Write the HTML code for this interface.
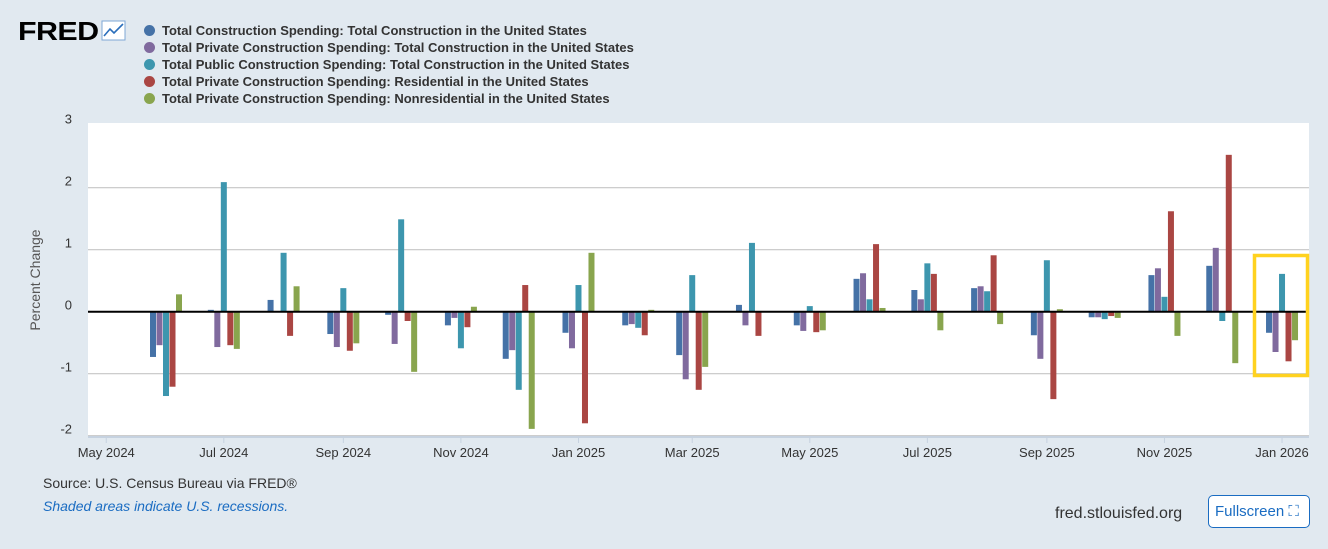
<!DOCTYPE html>
<html><head><meta charset="utf-8"><style>
body{margin:0;width:1328px;height:549px;background:#e1e9f0;font-family:"Liberation Sans",sans-serif;overflow:hidden;position:relative}
.abs{position:absolute}
.leg{position:absolute;left:144px;font-size:13px;font-weight:bold;color:#333}
.leg span{display:inline-block;width:11px;height:11px;border-radius:50%;margin-right:7px;vertical-align:-1px}
</style></head><body>
<div class="abs" style="left:18px;top:16px;font-size:26px;font-weight:900;color:#000;letter-spacing:-0.5px;transform:scaleX(1.17);transform-origin:left">FRED</div>
<svg class="abs" style="left:101px;top:20px" width="26" height="22"><rect x="1" y="1" width="23" height="19" fill="#fff" stroke="#7fa8d6"/><polyline points="3,16 9,9 13,13 22,4" fill="none" stroke="#2a6ebb" stroke-width="1.6"/></svg>
<div class="leg" style="top:23px"><span style="background:#4572a7"></span>Total Construction Spending: Total Construction in the United States</div>
<div class="leg" style="top:40px"><span style="background:#806a9e"></span>Total Private Construction Spending: Total Construction in the United States</div>
<div class="leg" style="top:57px"><span style="background:#3d96ae"></span>Total Public Construction Spending: Total Construction in the United States</div>
<div class="leg" style="top:74px"><span style="background:#aa4643"></span>Total Private Construction Spending: Residential in the United States</div>
<div class="leg" style="top:91px"><span style="background:#89a54e"></span>Total Private Construction Spending: Nonresidential in the United States</div>
<svg id="chart" class="abs" style="left:0;top:0" width="1328" height="470"></svg>
<div class="abs" style="left:43px;top:475px;font-size:14px;color:#333">Source: U.S. Census Bureau via FRED®</div>
<div class="abs" style="left:43px;top:498px;font-size:14px;color:#1a6cc2;font-style:italic">Shaded areas indicate U.S. recessions.</div>
<div class="abs" style="left:1055px;top:505px;font-size:16px;color:#333">fred.stlouisfed.org</div>
<div class="abs" style="left:1208px;top:495px;width:100px;height:31px;border:1px solid #1a6cc2;border-radius:5px;background:#fff;color:#1a6cc2;font-size:15px;line-height:31px;text-indent:6px">Fullscreen ⛶</div>
<script>
const months=["2024-06","2024-07","2024-08","2024-09","2024-10","2024-11","2024-12","2025-01","2025-02","2025-03","2025-04","2025-05","2025-06","2025-07","2025-08","2025-09","2025-10","2025-11","2025-12","2026-01"];
const totalVals=[-0.73,0.03,0.19,-0.36,-0.05,-0.22,-0.76,-0.34,-0.22,-0.70,0.11,-0.22,0.53,0.35,0.38,-0.38,-0.09,0.59,0.74,-0.34];
const privateVals=[-0.54,-0.57,0,-0.57,-0.52,-0.10,-0.62,-0.59,-0.20,-1.09,-0.22,-0.31,0.62,0.20,0.41,-0.76,-0.09,0.70,1.03,-0.65];
const publicVals=[-1.36,2.09,0.95,0.38,1.49,-0.59,-1.26,0.43,-0.26,0.59,1.11,0.09,0.20,0.78,0.33,0.83,-0.12,0.24,-0.15,0.61];
const residentialVals=[-1.21,-0.54,-0.39,-0.63,-0.15,-0.25,0.43,-1.80,-0.38,-1.26,-0.39,-0.33,1.09,0.61,0.91,-1.41,-0.07,1.62,2.53,-0.80];
const nonresVals=[0.28,-0.60,0.41,-0.51,-0.97,0.08,-1.89,0.95,0.03,-0.89,0,-0.30,0.06,-0.30,-0.20,0.04,-0.10,-0.39,-0.83,-0.46];
const yTicks=[3,2,1,0,-1,-2];
const xTickLabels=["May 2024","Jul 2024","Sep 2024","Nov 2024","Jan 2025","Mar 2025","May 2025","Jul 2025","Sep 2025","Nov 2025","Jan 2026"];
const xTickDates=["2024-05","2024-07","2024-09","2024-11","2025-01","2025-03","2025-05","2025-07","2025-09","2025-11","2026-01"];

const svg=document.getElementById('chart');const NS="http://www.w3.org/2000/svg";
function mk(t,a,p){const e=document.createElementNS(NS,t);for(const k in a)e.setAttribute(k,a[k]);(p||svg).appendChild(e);return e;}
const d0=Date.UTC(2024,5,1);
function x(s){const [y,m]=s.split('-').map(Number);return 166+(Date.UTC(y,m-1,1)-d0)/864e5*1.9275;}
function y(v){return 311.7-v*62;}
const plot=mk('rect',{x:88,y:123,width:1221,height:314,fill:'#fff'});

yTicks.forEach(t=>{
  if(t!==0&&t!==3){const g=mk('line',{x1:88,x2:1309,y1:y(t),y2:y(t),stroke:'#c6c6c6','stroke-width':1.2});}
  const tx=mk('text',{x:72,y:y(t)-2,'text-anchor':'end','font-size':13,fill:'#333','font-family':'Liberation Sans'});tx.textContent=t;
  
});
const yt=mk('text',{transform:'translate(40,280) rotate(-90)','text-anchor':'middle','font-size':14,fill:'#555','font-family':'Liberation Sans'});yt.textContent='Percent Change';

const series=[[totalVals,'#4572a7'],[privateVals,'#806a9e'],[publicVals,'#3d96ae'],[residentialVals,'#aa4643'],[nonresVals,'#89a54e']];
series.forEach(([vals,c],si)=>{
  vals.forEach((v,i)=>{
    const cx=x(months[i])+(si-2)*6.5;
    const r=mk('rect',{x:cx-3,y:Math.min(y(v),y(0)),width:6,height:Math.abs(y(v)-y(0)),fill:c});
    
  });
});
const z=mk('line',{x1:88,x2:1309,y1:y(0),y2:y(0),stroke:'#000','stroke-width':2});

const ax=mk('line',{x1:88,x2:1309,y1:437,y2:437,stroke:'#c6d2e0','stroke-width':2});

xTickDates.forEach((d,i)=>{
  const t=mk('line',{x1:x(d),x2:x(d),y1:437,y2:443,stroke:'#c6d2e0'});
  const tx=mk('text',{x:x(d),y:457,'text-anchor':'middle','font-size':13,fill:'#333','font-family':'Liberation Sans'});tx.textContent=xTickLabels[i];
  
});
const hl=mk('rect',{x:1254.5,y:255.5,width:53,height:120,fill:'none',stroke:'#ffd21f','stroke-width':3.5});

</script>
</body></html>
